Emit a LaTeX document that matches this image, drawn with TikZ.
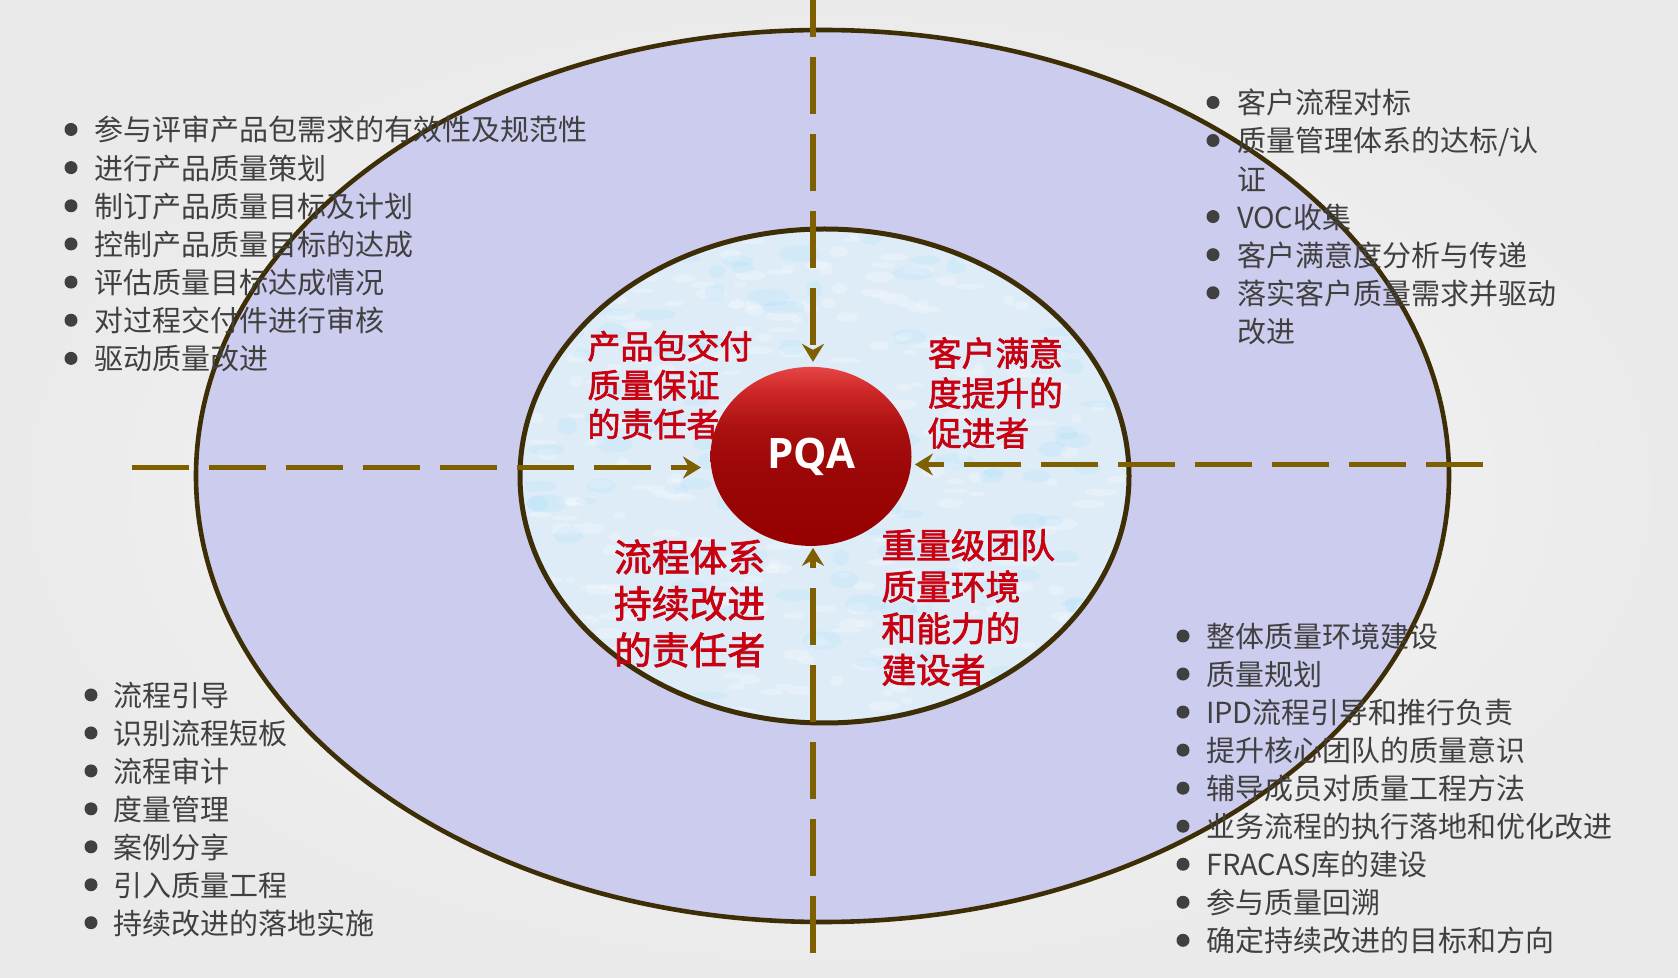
\documentclass[tikz,border=0pt]{standalone}
\usepackage{fontspec}
\usetikzlibrary{shapes.geometric,arrows.meta}
\newfontfamily\cjk{Noto Sans CJK SC}
\newfontfamily\cjkfb[FakeBold=2]{Noto Sans CJK SC}
\newfontfamily\pqafont{Open Sans}
\definecolor{bgin}{RGB}{250,250,250}
\definecolor{bgout}{RGB}{234,234,234}
\definecolor{outerc}{RGB}{204,204,238}
\definecolor{innerc}{RGB}{222,236,248}
\definecolor{rimc}{RGB}{62,46,6}
\definecolor{guidec}{RGB}{127,96,0}
\definecolor{txtgray}{RGB}{64,64,64}
\definecolor{rolered}{RGB}{200,0,16}
\definecolor{balltop}{RGB}{230,70,70}
\definecolor{ballA}{RGB}{205,38,38}
\definecolor{ballB}{RGB}{170,16,16}
\definecolor{ballC}{RGB}{155,6,6}
\definecolor{ballbot}{RGB}{150,0,0}
\pgfdeclareverticalshading{pqashade}{100bp}{color(0bp)=(ballbot); color(25bp)=(ballbot); color(45bp)=(ballC); color(58bp)=(ballB); color(68bp)=(ballA); color(75bp)=(balltop); color(100bp)=(balltop)}
\begin{document}
\begin{tikzpicture}[x=0.5pt,y=-0.5pt,
  item/.style={font=\cjk\fontsize{14.5pt}{19pt}\selectfont, text=txtgray, anchor=west, inner sep=0pt, outer sep=0pt, text height=11.5pt, text depth=3pt},
  bul/.style={circle, fill=txtgray, minimum size=6.5pt, inner sep=0pt, outer sep=0pt},
  role/.style={text=rolered, align=left, anchor=west, inner sep=0pt, outer sep=0pt},
  innershape/.style={ellipse, minimum width=304.5pt, minimum height=247pt, inner sep=0pt, outer sep=0pt},
  guide/.style={draw=guidec, line width=2.8pt, dash pattern=on 28.5pt off 10pt, -{Stealth[length=9pt,width=11pt,inset=3pt]}},
]
\useasboundingbox (0,0) rectangle (1678,978);
\shade[inner color=bgin, outer color=bgout] (0,0) rectangle (1678,978);

\node[ellipse, draw=rimc, line width=2.3pt, fill=outerc, minimum width=626.5pt, minimum height=446pt, inner sep=0pt, outer sep=0pt] (outer) at (822.5,476) {};

% top-left list
\foreach \t [count=\i] in {参与评审产品包需求的有效性及规范性,进行产品质量策划,制订产品质量目标及计划,控制产品质量目标的达成,评估质量目标达成情况,对过程交付件进行审核,驱动质量改进}{
  \node[item] (tl\i) at (94.5,{132.5+38.15*(\i-1)}) {\t};
  \node[bul] (tlb\i) at (71,{129.5+38.15*(\i-1)}) {};
}
% top-right list
\node[bul] (trb1) at (1213,102.5) {};
\node[item] (tr1) at (1237,105.5) {客户流程对标};
\node[bul] (trb2) at (1213,140.5) {};
\node[item] (tr2) at (1237,143.5) {质量管理体系的达标/认};
\node[item] (tr2b) at (1237,181.6) {证};
\node[bul] (trb3) at (1213,216.6) {};
\node[item] (tr3) at (1237,219.6) {VOC收集};
\node[bul] (trb4) at (1213,254.7) {};
\node[item] (tr4) at (1237,257.7) {客户满意度分析与传递};
\node[bul] (trb5) at (1213,292.8) {};
\node[item] (tr5) at (1237,295.8) {落实客户质量需求并驱动};
\node[item] (tr5b) at (1237,333.8) {改进};
% bottom-left list
\foreach \t [count=\i] in {流程引导,识别流程短板,流程审计,度量管理,案例分享,引入质量工程,持续改进的落地实施}{
  \node[item] (bl\i) at (113.6,{698+37.95*(\i-1)}) {\t};
  \node[bul] (blb\i) at (91,{695+37.95*(\i-1)}) {};
}
% bottom-right list
\foreach \t [count=\i] in {整体质量环境建设,质量规划,IPD流程引导和推行负责,提升核心团队的质量意识,辅导成员对质量工程方法,业务流程的执行落地和优化改进,FRACAS库的建设,参与质量回溯,确定持续改进的目标和方向}{
  \node[item] (br\i) at (1206,{639+38.04*(\i-1)}) {\t};
  \node[bul] (brb\i) at (1183,{636+38.04*(\i-1)}) {};
}

\node[innershape, fill=innerc] (inner) at (824.5,476) {};
\begin{scope}
  \clip (824.5,476) ellipse [x radius=300, y radius=243];
  \pgfmathsetseed{7}
  \foreach \k in {1,...,320}{
    \fill[white, opacity=0.22] ({530+600*rnd},{230+495*rnd}) ellipse [x radius={5+12*rnd}, y radius={2+4*rnd}];
  }
  \foreach \k in {1,...,140}{
    \fill[blue!30!cyan, opacity=0.05] ({530+600*rnd},{230+495*rnd}) ellipse [x radius={8+14*rnd}, y radius={3+6*rnd}];
  }
\end{scope}
\node[innershape, draw=rimc, line width=2.5pt] (innerrim) at (inner.center) {};

\node[role, font=\cjkfb\fontsize{16.5pt}{19.5pt}\selectfont] (r1) at (587.5,385) {产品包交付\\质量保证\\的责任者};
\node[role, font=\cjkfb\fontsize{16.85pt}{20pt}\selectfont] (r2) at (928,393) {客户满意\\度提升的\\促进者};
\node[role, font=\cjkfb\fontsize{18.9pt}{23.25pt}\selectfont] (r3) at (614,603.5) {流程体系\\持续改进\\的责任者};
\node[role, font=\cjkfb\fontsize{17.35pt}{20.8pt}\selectfont] (r4) at (881.5,607.5) {重量级团队\\质量环境\\和能力的\\建设者};

\node[ellipse, shading=pqashade, minimum width=100.5pt, minimum height=89.5pt, inner sep=0pt, outer sep=0pt, text=white, font=\pqafont\bfseries\fontsize{21pt}{21pt}\selectfont] (pqa) at (811,456.4) {PQA};

\coordinate (vt) at (813,-20);
\coordinate (vb) at (813,953);
\coordinate (hl) at (132,467.5);
\coordinate (hr) at (1483,464.5);
\draw[guide, shorten >=2.5pt] (vt) -- (pqa.north -| vt);
\draw[guide, shorten >=1pt] (vb) -- (pqa.south -| vb);
\draw[guide, shorten >=4.75pt] (hl) -- (pqa.west |- hl);
\draw[guide, shorten >=1.7pt] (hr) -- (pqa.east |- hr);
\end{tikzpicture}
\end{document}
